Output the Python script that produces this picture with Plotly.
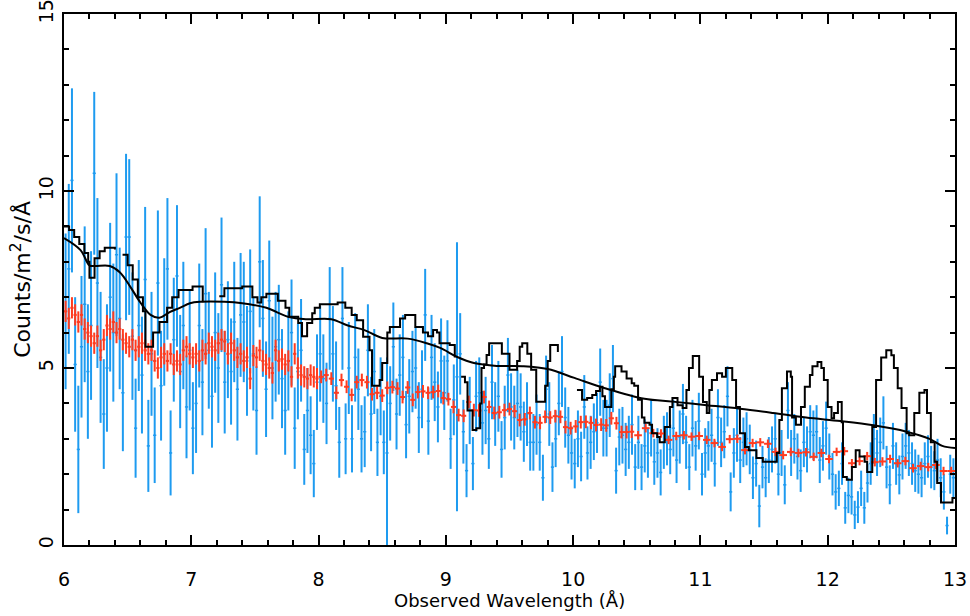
import numpy as np
import plotly.graph_objects as go

# ---- data ----
# blue spectrum: 0.025 A bins starting at 6.0125 A
blue_wave = np.round(np.arange(6.0125, 13.0, 0.025), 4)
blue_flux = [
    6.6, 7.8, 10.3, 5.1, 2.7, 5.6, 6.8, 4.9, 6.2, 10.5,
    7.4, 5.3, 3.7, 5.0, 7.0, 6.0, 8.2, 6.4, 4.3, 8.7,
    8.7, 5.9, 3.3, 6.2, 4.8, 7.5, 2.8, 5.4, 3.1, 7.4,
    4.5, 6.3, 7.8, 2.6, 5.8, 7.6, 4.9, 6.2, 3.9, 5.5,
    3.3, 4.0, 6.2, 4.6, 7.1, 5.5, 4.2, 6.0, 5.0, 7.35,
    4.6, 5.8, 4.9, 6.3, 4.4, 6.5, 6.3, 5.2, 6.6, 5.4,
    3.8, 8.0, 6.4, 4.4, 6.9, 5.0, 5.6, 5.8, 4.7, 3.8,
    5.2, 6.0, 3.3, 4.9, 5.5, 2.7, 3.8, 3.1, 2.3, 4.6,
    5.4, 4.7, 4.0, 6.4, 5.4, 4.5, 2.9, 6.4, 3.0, 5.0,
    3.0, 5.3, 4.4, 3.0, 3.2, 5.5, 3.7, 4.9, 2.9, 4.2,
    2.9, 2.6, 4.0, 5.6, 3.7, 4.8, 5.3, 3.4, 4.2, 4.9,
    5.0, 3.6, 4.4, 6.5, 3.5, 5.3, 4.6, 3.9, 5.2, 4.3,
    5.2, 3.0, 4.1, 4.75, 5.4, 3.2, 2.1, 3.8, 2.3, 4.2,
    4.3, 3.45, 3.8, 3.0, 4.6, 3.7, 4.2, 2.7, 3.6, 4.8,
    3.9, 3.6, 4.0, 3.9, 3.2, 3.7, 2.9, 2.9, 3.4, 2.9,
    1.9, 4.4, 3.7, 2.2, 3.0, 4.0, 4.9, 3.6, 3.1, 2.6,
    2.3, 3.0, 2.5, 3.9, 2.6, 2.9, 3.2, 3.45, 4.6, 3.3,
    3.3, 3.95, 4.7, 2.1, 3.05, 3.1, 2.7, 2.9, 3.4, 2.2,
    2.9, 2.2, 2.8, 2.6, 3.3, 2.35, 2.6, 2.05, 2.9, 3.0,
    2.7, 3.3, 2.4, 3.05, 3.7, 2.9, 2.2, 3.3, 2.8, 3.5,
    2.0, 2.6, 2.8, 3.1, 2.3, 3.6, 2.9, 3.2, 4.2, 1.5,
    2.6, 3.1, 2.4, 2.9, 3.0, 2.7, 1.9, 2.3, 1.1, 2.2,
    1.9, 2.4, 2.7, 3.0, 2.0, 2.6, 1.7, 3.8, 2.6, 3.0,
    2.5, 2.1, 2.9, 2.7, 3.2, 3.1, 3.2, 2.4, 2.8, 3.3,
    2.5, 2.0, 1.5, 1.6, 2.3, 1.05, 1.4, 1.36, 0.85, 1.07,
    1.6, 1.05, 1.75, 2.3, 3.0, 2.6, 2.9, 3.45, 2.2, 1.7,
    2.8, 2.3, 1.98, 2.5, 2.8, 2.6, 2.3, 2.1, 2.0, 1.9,
    2.3, 2.5, 2.2, 2.1, 2.4, 1.9, 1.5, 0.55, 2.0, 1.9,
]
blue_err = [
    2.2, 2.4, 2.6, 1.9, 1.8, 2.0, 2.2, 1.9, 2.1, 2.3,
    2.4, 1.85, 1.55, 1.8, 2.1, 1.95, 2.3, 2.0, 1.65, 2.35,
    2.2, 1.8, 1.4, 1.85, 1.65, 2.05, 1.3, 1.75, 1.35, 2.05,
    1.55, 1.8, 2.0, 1.2, 1.75, 2.0, 1.6, 1.8, 1.45, 1.7,
    1.3, 1.4, 1.75, 1.5, 1.85, 1.65, 1.45, 1.7, 1.55, 1.9,
    1.45, 1.65, 1.5, 1.7, 1.45, 1.75, 1.7, 1.55, 1.75, 1.6,
    1.25, 1.85, 1.65, 1.35, 1.7, 1.45, 1.55, 1.55, 1.4, 1.25,
    1.4, 1.5, 1.15, 1.35, 1.45, 1.0, 1.2, 1.1, 0.95, 1.35,
    1.35, 1.25, 1.15, 1.45, 1.35, 1.25, 1.0, 1.45, 1.0, 1.3,
    0.95, 1.25, 1.15, 0.95, 1.0, 1.3, 1.05, 1.2, 0.95, 1.1,
    0.9, 2.7, 1.05, 1.25, 1.0, 1.15, 1.2, 0.95, 1.05, 1.15,
    1.15, 1.0, 1.1, 1.3, 0.95, 1.2, 1.1, 1.0, 1.2, 1.05,
    1.15, 0.85, 1.0, 3.8, 1.15, 0.9, 0.75, 0.95, 0.75, 1.0,
    1.0, 0.9, 0.95, 0.85, 1.05, 0.9, 1.0, 0.8, 0.9, 1.05,
    0.95, 0.9, 0.95, 0.95, 0.85, 0.9, 0.8, 0.8, 0.85, 0.8,
    0.65, 0.95, 0.9, 0.7, 0.8, 0.9, 1.0, 0.85, 0.8, 0.75,
    0.7, 0.8, 0.7, 0.9, 0.75, 0.75, 0.8, 0.85, 0.95, 0.8,
    0.8, 0.9, 0.95, 0.65, 0.8, 0.8, 0.75, 0.75, 0.85, 0.65,
    0.75, 0.65, 0.75, 0.7, 0.8, 0.65, 0.7, 0.65, 0.75, 0.75,
    0.7, 0.8, 0.65, 0.75, 0.85, 0.75, 0.65, 0.8, 0.7, 0.8,
    0.6, 0.7, 0.7, 0.75, 0.65, 0.8, 0.7, 0.75, 0.85, 0.55,
    0.7, 0.75, 0.65, 0.7, 0.75, 0.7, 0.6, 0.65, 0.6, 0.6,
    0.55, 0.65, 0.65, 0.7, 0.6, 0.65, 0.55, 0.8, 0.65, 0.7,
    0.65, 0.6, 0.7, 0.65, 0.75, 0.7, 0.75, 0.65, 0.7, 0.75,
    0.65, 0.6, 0.5, 0.5, 0.6, 0.45, 0.5, 0.5, 0.4, 0.45,
    0.5, 0.45, 0.55, 0.6, 0.7, 0.65, 0.7, 0.75, 0.6, 0.55,
    0.65, 0.6, 0.55, 0.65, 0.65, 0.65, 0.6, 0.6, 0.55, 0.55,
    0.6, 0.6, 0.6, 0.55, 0.6, 0.55, 0.5, 0.25, 0.55, 0.55,
]

# red spectrum: three binnings (0.025, 0.04, 0.06 A)
red_wave_a = np.round(np.arange(6.0125, 8.0, 0.025), 4)
red_wave_b = np.round(np.arange(8.02, 10.48, 0.04), 3)
red_wave_c = np.round(np.arange(10.51, 13.0, 0.06), 3)
red_flux_a = [
    6.6, 6.4, 6.7, 6.5, 6.3, 6.5, 6.1, 6.0, 5.9, 5.7,
    5.9, 5.5, 5.8, 6.2, 6.1, 6.3, 6.0, 6.1, 5.8, 5.7,
    5.6, 5.8, 5.5, 5.6, 5.7, 5.5, 5.4, 5.5, 5.2, 5.0,
    5.3, 5.4, 5.2, 5.4, 5.1, 5.2, 5.1, 5.5, 5.6, 5.4,
    5.3, 5.4, 5.2, 5.5, 5.4, 5.7, 5.6, 5.5, 5.7, 5.8,
    5.75, 5.4, 5.7, 5.5, 5.3, 5.4, 5.2, 5.3, 4.7, 5.35,
    5.3, 5.5, 5.2, 5.1, 5.0, 4.86, 5.5, 5.2, 5.25, 5.1,
    5.2, 4.75, 5.4, 5.0, 4.8, 4.75, 4.7, 4.8, 4.75, 4.7,
]
red_flux_b = [
    4.75, 4.8, 4.7, 4.3, 4.66, 4.47, 4.24, 4.6, 4.66, 4.6,
    4.26, 4.3, 4.22, 4.44, 4.46, 4.42, 4.18, 4.45, 4.1, 4.32,
    4.34, 4.3, 4.32, 4.35, 4.15, 4.12, 3.9, 3.67, 3.65, 4.04,
    3.81, 3.8, 4.18, 3.9, 3.73, 3.75, 3.81, 3.84, 3.78, 3.53,
    3.55, 3.73, 3.47, 3.45, 3.62, 3.6, 3.64, 3.62, 3.33, 3.3,
    3.35, 3.47, 3.48, 3.45, 3.39, 3.4, 3.38, 3.58, 3.44, 3.19,
    3.19, 3.2,
]
red_flux_c = [
    3.1, 3.3, 3.16, 3.15, 2.97, 3.08, 3.1, 3.06, 3.08, 2.97,
    2.88, 2.77, 2.99, 3.0, 2.68, 2.88, 2.9, 2.86, 2.63, 2.54,
    2.63, 2.6, 2.62, 2.49, 2.6, 2.43, 2.63, 2.65, 2.31, 2.37,
    2.51, 2.34, 2.36, 2.43, 2.31, 2.37, 2.17, 2.23, 2.2, 2.26,
    2.09, 2.09,
]
red_err_a, red_err_b, red_err_c = 0.3, 0.18, 0.12

# model with absorption lines (step histogram, None = gap)
model_wave = [
    6.00, 6.04, 6.08, 6.12, 6.16, 6.19, 6.20, 6.24, 6.28, 6.32, 6.36, 6.40, 6.44,
    6.46, 6.50, 6.54, 6.58, 6.62, 6.64, 6.70, 6.75, 6.81, 6.85, 6.90, 7.01, 7.09, 7.13,
    7.22, 7.26, 7.40, 7.48, 7.52, 7.55, 7.59, 7.68, 7.74, 7.77, 7.84, 7.87, 7.91, 7.95,
    7.97, 8.01, 8.15, 8.21, 8.26, 8.30, 8.35, 8.40, 8.42, 8.48, 8.50, 8.54, 8.56, 8.64,
    8.68, 8.72, 8.76, 8.82, 8.86, 8.90, 8.93, 8.95, 9.03, 9.07, 9.085,
    9.12, 9.15, 9.17, 9.21, 9.24, 9.27, 9.28, 9.30, 9.32, 9.34, 9.44, 9.50, 9.56, 9.58,
    9.60, 9.64, 9.67, 9.71, 9.78, 9.80, 9.82, 9.88, 9.92,
    10.03, 10.07, 10.11, 10.15, 10.18, 10.21, 10.23, 10.25, 10.30, 10.32, 10.33, 10.38,
    10.42, 10.46, 10.48, 10.51, 10.54, 10.56, 10.60, 10.62, 10.66, 10.68, 10.72, 10.76,
    10.78, 10.82, 10.86, 10.89, 10.91, 10.94, 10.99, 11.02, 11.05, 11.07, 11.09, 11.13,
    11.17, 11.20, 11.25, 11.28, 11.31, 11.35, 11.38, 11.44, 11.49, 11.60, 11.62, 11.64,
    11.68, 11.71, 11.72, 11.75, 11.79, 11.82, 11.86, 11.88, 11.92, 11.95, 11.97, 12.00,
    12.03, 12.05, 12.08, 12.11, 12.12, 12.15, 12.19, 12.22, 12.25, 12.29, 12.31, 12.35,
    12.38, 12.42, 12.46, 12.50, 12.52, 12.55, 12.58, 12.62, 12.64, 12.68, 12.72, 12.76,
    12.78, 12.81, 12.84, 12.86, 12.89, 12.95, 12.98, 13.00,
]
model_flux = [
    9.0, 8.9, 8.7, 8.5, 8.25, 8.0, 7.55, 8.1, 8.3, 8.4, 8.4, 8.35, None,
    8.2, 7.9, 7.5, 7.0, 6.6, 5.6, 6.0, 6.3, 6.7, 7.0, 7.2, 7.3, 6.86, None,
    7.03, 7.25, 7.3, 7.0, 6.85, 7.0, 7.1, 6.9, 6.7, 6.45, 6.27, 5.9, 6.27, 6.55,
    6.7, 6.8, 6.85, 6.7, 6.5, 6.35, 5.88, 5.5, 4.5, 4.66, 5.14, 6.0, 6.16, 6.4,
    6.5, 6.5, 6.16, 6.0, 5.9, 6.07, 6.0, 5.7, 5.65, 5.3, None,
    4.75, 4.6, 3.8, 3.25, 3.3, 4.0, 5.0, 5.1, 5.37, 5.7, 5.4, 4.95, 5.2, 5.6,
    5.7, 5.4, 4.95, 4.05, 4.5, 5.2, 5.65, 5.45, None,
    4.38, 4.1, 4.15, 4.24, 4.35, 4.47, 4.2, 3.9, 4.4, 4.75, 5.05, 4.9,
    4.7, 4.57, 4.5, 4.1, 3.6, 3.45, 3.4, 3.16, 3.05, 2.9, 3.33, 3.9,
    4.15, 3.95, 3.87, 4.38, 5.0, 5.34, 4.75, 4.04, 3.73, 4.38, 4.66, 4.85,
    4.75, 5.0, 4.66, 3.9, 3.16, 2.77, 2.68, 2.46, 2.35, 2.6, 3.53, 4.43,
    4.9, 4.75, 3.6, 3.4, 3.9, 4.47, 4.8, 5.05, 5.17, 5.0, 4.66, 3.9,
    3.58, 3.73, 4.04, 3.47, 1.92, 1.84, 2.2, 2.68, 2.5, 2.35, 2.06, 3.33,
    4.66, 5.3, 5.5, 5.36, 5.0, 4.43, 3.87, 3.16, 3.1, 3.73, 4.3, 4.38,
    3.73, 2.9, 2.35, 1.75, 1.2, 1.2, 1.33, 1.33,
]

# continuum model
cont_wave = [6.00, 6.13, 6.20, 6.24, 6.36, 6.44, 6.52, 6.60, 6.68, 6.75, 6.83, 6.91,
             6.99, 7.07, 7.26, 7.40, 7.59, 7.76, 7.90, 8.10, 8.23, 8.36, 8.50, 8.70,
             8.85, 8.96, 9.09, 9.22, 9.40, 9.60, 9.80, 10.01, 10.25, 10.56, 10.78,
             11.05, 11.31, 11.57, 11.83, 12.10, 12.36, 12.62, 12.80, 12.90, 13.00]
cont_flux = [8.67, 8.33, 7.9, 7.88, 7.88, 7.7, 7.3, 6.85, 6.5, 6.42, 6.58, 6.7,
             6.83, 6.87, 6.87, 6.83, 6.7, 6.45, 6.38, 6.38, 6.2, 6.07, 5.85, 5.83,
             5.7, 5.56, 5.31, 5.14, 5.06, 5.05, 4.97, 4.72, 4.43, 4.13, 4.05,
             3.95, 3.85, 3.73, 3.6, 3.5, 3.38, 3.2, 3.0, 2.8, 2.74]

BLUE = "#1E9BF0"
RED = "#FF3B1F"
FONT = "DejaVu Sans"

fig = go.Figure()

fig.add_trace(go.Scatter(
    x=blue_wave, y=blue_flux, mode="markers",
    marker=dict(size=1, color=BLUE),
    error_y=dict(type="data", array=blue_err, color=BLUE, thickness=2, width=0),
    error_x=dict(type="constant", value=0.0125, color=BLUE, thickness=1.5, width=0),
    showlegend=False, hoverinfo="skip",
))

for wave, flux, err, half in [(red_wave_a, red_flux_a, red_err_a, 0.0125),
                              (red_wave_b, red_flux_b, red_err_b, 0.02),
                              (red_wave_c, red_flux_c, red_err_c, 0.03)]:
    fig.add_trace(go.Scatter(
        x=wave, y=flux, mode="markers",
        marker=dict(size=1, color=RED),
        error_y=dict(type="constant", value=err, color=RED, thickness=2, width=0),
        error_x=dict(type="constant", value=half, color=RED, thickness=2, width=0),
        showlegend=False, hoverinfo="skip",
    ))

fig.add_trace(go.Scatter(
    x=model_wave, y=model_flux, mode="lines", line_shape="hv",
    line=dict(color="black", width=2), connectgaps=False,
    showlegend=False, hoverinfo="skip",
))
fig.add_trace(go.Scatter(
    x=cont_wave, y=cont_flux, mode="lines", line_shape="spline",
    line=dict(color="black", width=2),
    showlegend=False, hoverinfo="skip",
))

axis_common = dict(
    showline=True, linecolor="black", linewidth=2, mirror="ticks",
    ticks="inside", ticklen=10, tickwidth=1.5, tickcolor="black",
    showgrid=False, zeroline=False, automargin=False, ticklabeloverflow="allow",
    tickfont=dict(family=FONT, size=19, color="black"),
)

fig.update_layout(
    width=970, height=616,
    margin=dict(l=64, r=15, t=14, b=71),
    paper_bgcolor="white", plot_bgcolor="white",
    font=dict(family=FONT, color="black"),
    xaxis=dict(
        range=[6, 13], dtick=1, tick0=6, ticklabelstandoff=16,
        minor=dict(dtick=0.2, ticklen=5, ticks="inside", tickcolor="black", tickwidth=1.5),
        **axis_common,
    ),
    yaxis=dict(
        range=[0, 15], dtick=5, tick0=0, tickangle=-90, ticklabelstandoff=1,
        minor=dict(dtick=1, ticklen=5, ticks="inside", tickcolor="black", tickwidth=1.5),
        **axis_common,
    ),
    annotations=[
        dict(text="Observed Wavelength (Å)", xref="paper", yref="paper",
             x=0.5, y=-0.105, xanchor="center", yanchor="middle", showarrow=False,
             font=dict(family=FONT, size=18, color="black")),
        dict(text="Counts/m<sup>2</sup>/s/Å", xref="paper", yref="paper",
             x=-0.049, y=0.5, xanchor="center", yanchor="middle", textangle=-90,
             showarrow=False, font=dict(family=FONT, size=22, color="black")),
    ],
)

# drop the default 8px page margin so the figure fills the window exactly
fig.write_html("out.html", config={"displayModeBar": False},
               post_script="document.body.style.margin='0';")
